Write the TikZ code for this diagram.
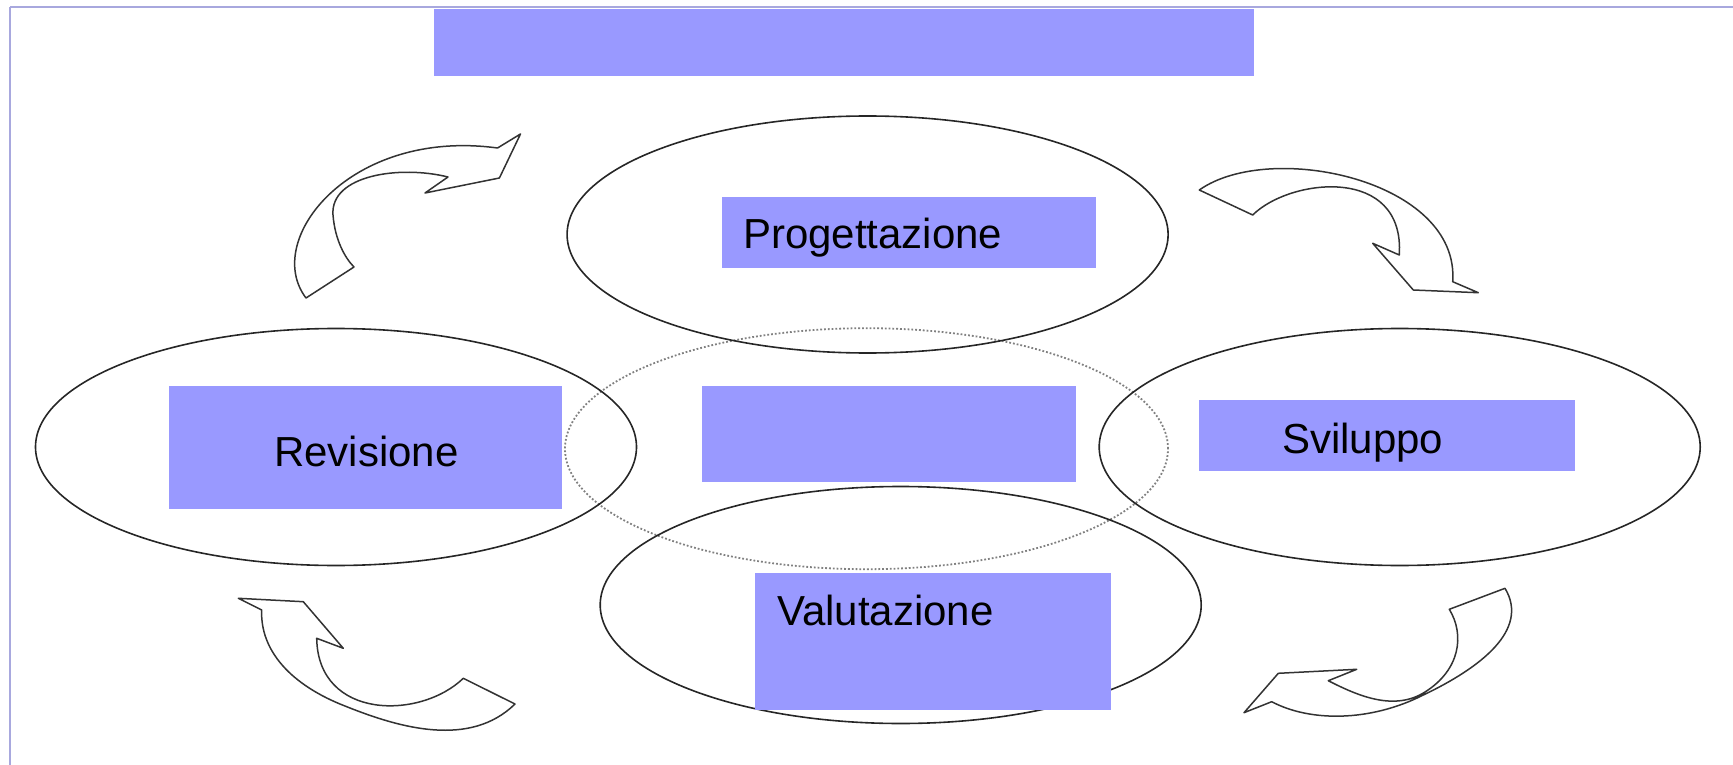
\documentclass[tikz,border=0pt]{standalone}
\usepackage{fontspec}
\setmainfont{Liberation Sans}
\usetikzlibrary{shapes.geometric}
\definecolor{boxblue}{HTML}{9999FF}
\definecolor{frameblue}{RGB}{168,168,222}
\begin{document}
\begin{tikzpicture}[x=1pt,y=-1pt,
  phase/.style={ellipse, draw=black!85, line width=1.6pt, inner sep=0pt,
    minimum width=601pt, minimum height=237pt},
  core/.style={ellipse, draw=black!50, dotted, line width=1.8pt, inner sep=0pt,
    minimum width=603pt, minimum height=241pt},
  panel/.style={fill=boxblue, inner sep=0pt, anchor=north west},
  phasetext/.style={anchor=base west, inner sep=0pt, text=black,
    font=\fontsize{42}{50}\selectfont},
  turn/.style={draw=black!80, line width=1.5pt, fill=white, line join=round},
  edge/.style={draw=frameblue, line width=2pt}
]
\useasboundingbox (0,0) rectangle (1733,765);

% frame lines along the top and left edge
\draw[edge] (10,7.5) -- (1733,7.5);
\draw[edge] (10,7.5) -- (10,765);

% title bar
\node[panel, minimum width=820pt, minimum height=67pt] (title) at (434,9) {};

% the four phases and the central (dotted) core
\node[core]  (core) at (866.5,448.7) {};
\node[phase] (prog) at (867.6,234.5) {};
\node[phase] (rev)  at (336,447) {};
\node[phase] (svil) at (1399.7,447) {};
\node[phase] (val)  at (900.7,605) {};

% text panels
\node[panel, minimum width=373.6pt, minimum height=70.8pt] (progbox) at (721.7,196.7) {};
\node[panel, minimum width=392.4pt, minimum height=122.7pt] (revbox) at (169,385.7) {};
\node[panel, minimum width=373.6pt, minimum height=96.2pt] (corebox) at (701.8,385.7) {};
\node[panel, minimum width=376pt, minimum height=70.8pt] (svilbox) at (1199,400) {};
\node[panel, minimum width=355.8pt, minimum height=137pt] (valbox) at (754.9,572.5) {};

\node[phasetext] (progtxt) at (743,248) {Progettazione};
\node[phasetext] (revtxt)  at (274,466) {Revisione};
\node[phasetext] (sviltxt) at (1282,453) {Sviluppo};
\node[phasetext] (valtxt)  at (777,625) {Valutazione};

% curved block arrows of the cycle
% Revisione -> Progettazione
\draw[turn] (306,298)
  .. controls (262,240) and (350,128) .. (497.5,148)
  -- (520.5,134) -- (499.4,178) -- (425,193) -- (448,177)
  .. controls (400,165) and (330,175) .. (333,215)
  .. controls (335,240) and (345,258) .. (354,267)
  -- cycle;
% Progettazione -> Sviluppo
\draw[turn] (1199.3,190) -- (1252.7,215)
  .. controls (1290,178) and (1405,165) .. (1399.3,255)
  -- (1372.7,243.3) -- (1413.3,290) -- (1478.3,292.7) -- (1452.7,281.7)
  .. controls (1460,180) and (1270,140) .. (1199.3,190)
  -- cycle;
% Sviluppo -> Valutazione
\draw[turn] (1505,588.3) -- (1449.3,609.3)
  .. controls (1465,635) and (1460,670) .. (1425,692)
  .. controls (1395,711) and (1360,697) .. (1328.3,680.7)
  -- (1356.7,669.3) -- (1278.3,673.3) -- (1244,712.7) -- (1271.7,701.7)
  .. controls (1310,722) and (1370,722) .. (1423.3,695)
  .. controls (1480,668) and (1530,630) .. (1505,588.3)
  -- cycle;
% Valutazione -> Revisione
\draw[turn] (238.3,598.3) -- (261.7,610)
  .. controls (260,650) and (290,685) .. (346.7,706.7)
  .. controls (400,728) and (470,748) .. (515,704)
  -- (463.3,678.3)
  .. controls (420,720) and (318,720) .. (316.7,638.3)
  -- (343.3,648.3) -- (303.3,601.7) -- cycle;
\end{tikzpicture}
\end{document}
